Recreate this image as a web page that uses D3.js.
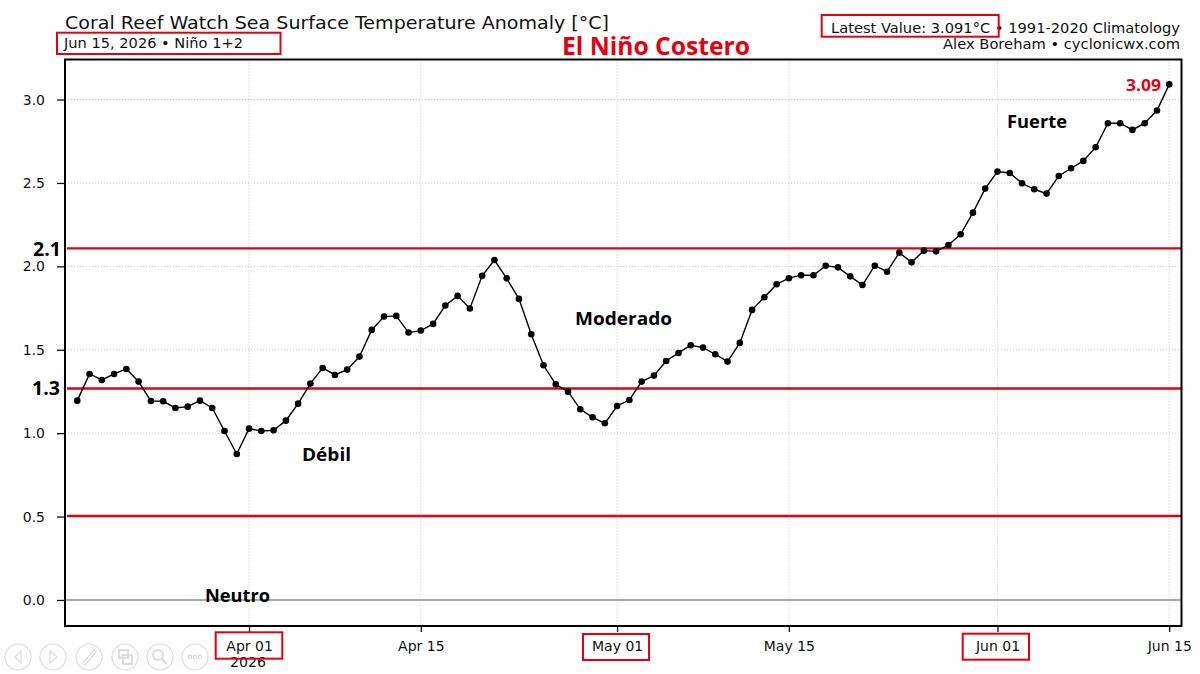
<!DOCTYPE html>
<html>
<head>
<meta charset="utf-8">
<script src="https://cdn.jsdelivr.net/npm/d3@7"></script>
<style>
  html, body { margin: 0; padding: 0; background: #fff; }
  svg { display: block; }
  text { font-family: "DejaVu Sans", sans-serif; fill: #111; }
  .note { font-family: "Open Sans", "Noto Sans", sans-serif; font-weight: 700; }
</style>
</head>
<body>
<svg id="chart" width="1200" height="674"></svg>
<script>
// daily anomaly, Mar 18 to Jun 15 2026
var startDate = "2026-03-18";
var anomaly = [
  1.195, 1.355, 1.319, 1.355, 1.385, 1.309, 1.193, 1.191, 1.151, 1.159,
  1.195, 1.151, 1.013, 0.875, 1.027, 1.013, 1.017, 1.075, 1.177, 1.297,
  1.391, 1.349, 1.381, 1.459, 1.619, 1.699, 1.703, 1.603, 1.615, 1.655,
  1.765, 1.823, 1.747, 1.943, 2.038, 1.928, 1.805, 1.593, 1.407, 1.293,
  1.249, 1.143, 1.095, 1.059, 1.163, 1.199, 1.309, 1.345, 1.433, 1.481,
  1.527, 1.513, 1.473, 1.429, 1.541, 1.739, 1.815, 1.893, 1.929, 1.947,
  1.947, 2.004, 1.994, 1.940, 1.888, 2.004, 1.968, 2.082, 2.024, 2.094,
  2.090, 2.128, 2.192, 2.322, 2.466, 2.568, 2.560, 2.498, 2.462, 2.436,
  2.542, 2.588, 2.632, 2.714, 2.858, 2.858, 2.818, 2.858, 2.934, 3.091
];
var yTicks = [0, 0.5, 1, 1.5, 2, 2.5, 3];
var xTicks = ["2026-04-01", "2026-04-15", "2026-05-01", "2026-05-15", "2026-06-01", "2026-06-15"];
var xTickLabels = ["Apr 01", "Apr 15", "May 01", "May 15", "Jun 01", "Jun 15"];
var redLevels = [0.503, 1.268, 2.108];
var zeroLevel = [0];

var parse = d3.utcParse("%Y-%m-%d");
var dates = anomaly.map(function(d, i) { return d3.utcDay.offset(parse(startDate), i); });
var red = "#e6000f";

var plotLeft = 65, plotRight = 1181.5, plotTop = 59.5, plotBottom = 626;
var x = d3.scaleUtc()
  .domain([d3.utcDay.offset(parse("2026-04-01"), -14.9), d3.utcDay.offset(parse("2026-04-01"), 76.03)])
  .range([plotLeft, plotRight]);
var y = d3.scaleLinear().domain([-0.156, 3.24]).range([plotBottom, plotTop]);

var svg = d3.select("#chart");

// grid
svg.append("g").selectAll("line").data(yTicks.slice(1)).enter().append("line")
  .attr("x1", plotLeft).attr("x2", plotRight)
  .attr("y1", function(d) { return y(d); }).attr("y2", function(d) { return y(d); })
  .attr("stroke", "#c4c4c4").attr("stroke-width", 1).attr("stroke-dasharray", "1,2");
svg.append("g").selectAll("line").data(xTicks).enter().append("line")
  .attr("y1", plotTop).attr("y2", plotBottom)
  .attr("x1", function(d) { return x(parse(d)); }).attr("x2", function(d) { return x(parse(d)); })
  .attr("stroke", "#c4c4c4").attr("stroke-width", 1).attr("stroke-dasharray", "1,2");

// zero line and the category limits
svg.append("g").selectAll("line").data(zeroLevel).enter().append("line")
  .attr("x1", plotLeft).attr("x2", plotRight)
  .attr("y1", function(d) { return y(d); }).attr("y2", function(d) { return y(d); })
  .attr("stroke", "#8c8c8c").attr("stroke-width", 1.4);
svg.append("g").selectAll("line").data(redLevels).enter().append("line")
  .attr("x1", plotLeft + 2).attr("x2", plotRight)
  .attr("y1", function(d) { return y(d); }).attr("y2", function(d) { return y(d); })
  .attr("stroke", red).attr("stroke-width", 2.4);

// series
var line = d3.line()
  .x(function(d, i) { return x(dates[i]); })
  .y(function(d) { return y(d); });
svg.append("path").datum(anomaly).attr("d", line)
  .attr("fill", "none").attr("stroke", "#000").attr("stroke-width", 1.4);
svg.append("g").selectAll("circle").data(anomaly).enter().append("circle")
  .attr("cx", function(d, i) { return x(dates[i]); })
  .attr("cy", function(d) { return y(d); })
  .attr("r", 3.3).attr("fill", "#000");

// axes
var yAxis = d3.axisLeft(y).tickValues(yTicks).tickFormat(d3.format(".1f")).tickSize(8).tickPadding(12);
var gy = svg.append("g").attr("transform", "translate(" + plotLeft + ",0)").call(yAxis);
var xAxis = d3.axisBottom(x).tickValues(xTicks.map(parse))
  .tickFormat(function(d, i) { return xTickLabels[i]; }).tickSize(6).tickPadding(9);
var gx = svg.append("g").attr("transform", "translate(0," + plotBottom + ")").call(xAxis);
[gy, gx].forEach(function(g) {
  g.select(".domain").remove();
  g.selectAll("line").attr("stroke", "#111").attr("stroke-width", 1.3);
  g.selectAll("text").attr("font-family", "DejaVu Sans").attr("font-size", 14).attr("fill", "#111");
});

svg.append("rect")
  .attr("x", plotLeft).attr("y", plotTop).attr("width", plotRight - plotLeft).attr("height", plotBottom - plotTop)
  .attr("fill", "none").attr("stroke", "#000").attr("stroke-width", 2);

function label(str, xPos, yPos, size, width, cls, color) {
  var t = svg.append("text").attr("x", xPos).attr("y", yPos).attr("font-size", size).text(str);
  if (width) t.attr("textLength", width).attr("lengthAdjust", "spacingAndGlyphs");
  if (cls) t.attr("class", cls);
  if (color) t.style("fill", color);
  return t;
}

// header
label("Coral Reef Watch Sea Surface Temperature Anomaly [°C]", 65, 29, 17, 544);
label("Jun 15, 2026 • Niño 1+2", 64, 48, 13.5, 179);
label("Latest Value: 3.091°C • 1991-2020 Climatology", 831, 33, 13.5, 349);
label("Alex Boreham • cyclonicwx.com", 943, 49, 13.5, 237);
label("2026", 230, 667, 14, 36);

// overlay notes
label("El Niño Costero", 562, 55, 25, 188, "note", red);
label("2.1", 33, 256, 19, 28, "note", "#000");
label("1.3", 32, 395, 19, 28, "note", "#000");
label("Moderado", 575, 325, 18, 97, "note", "#000");
label("Débil", 302, 461, 18, 49, "note", "#000");
label("Fuerte", 1007, 128, 18, 60, "note", "#000");
label("Neutro", 205, 602, 18, 65, "note", "#000");
label("3.09", 1126, 91, 16.5, 35, "note", red);

// red marks around the important texts
var boxes = [[57, 32.7, 223.5, 21.3], [821.7, 15, 177, 21.7], [215.7, 632.3, 66.6, 26.4], [583, 634, 66, 26], [962.7, 633.7, 66.3, 26]];
svg.append("g").selectAll("rect").data(boxes).enter().append("rect")
  .attr("x", function(d) { return d[0]; }).attr("y", function(d) { return d[1]; })
  .attr("width", function(d) { return d[2]; }).attr("height", function(d) { return d[3]; })
  .attr("fill", "none").attr("stroke", red).attr("stroke-width", 2);

// slideshow toolbar left in the screenshot
var toolbar = [18, 53, 89, 125, 160, 195];
var bar = svg.append("g").attr("fill", "none").attr("stroke", "#dcdcdc").attr("stroke-width", 1.2);
bar.selectAll("circle").data(toolbar).enter().append("circle")
  .attr("cx", function(d) { return d; }).attr("cy", 657).attr("r", 13);
bar.append("path").attr("d", "M21,651 L15,657 L21,663 Z");
bar.append("path").attr("d", "M50,651 L57,657 L50,663 Z");
bar.append("path").attr("d", "M83,663 L94,650 L96,652 L85,665 Z");
bar.append("path").attr("d", "M119,650 h9 v8 h-9 Z M123,655 h9 v9 h-9 Z").attr("stroke-width", 2);
bar.append("circle").attr("cx", 158).attr("cy", 655).attr("r", 5).attr("stroke-width", 2);
bar.append("path").attr("d", "M162,659 L167,664").attr("stroke-width", 2.5);
[190, 195, 200].forEach(function(c) {
  bar.append("circle").attr("cx", c).attr("cy", 657).attr("r", 1.8);
});
</script>
</body>
</html>
